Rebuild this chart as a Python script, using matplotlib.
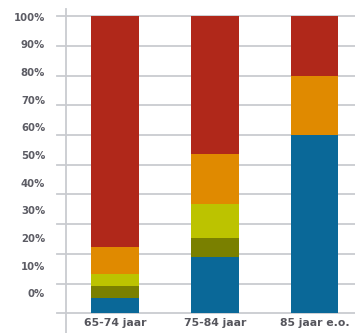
import numpy as np
import matplotlib
matplotlib.use('Agg')
import matplotlib.pyplot as plt

# age groups and stacked shares (percent), bottom to top
categories = ['65-74 jaar', '75-84 jaar', '85 jaar e.o.']
blue = [5.3, 18.9, 60.0]
olive = [4.0, 6.4, 0.0]
lime = [3.8, 11.6, 0.0]
orange = [9.4, 16.8, 20.0]
red = [77.5, 46.3, 20.0]

ytick_labels = ['0%', '10%', '20%', '30%', '40%', '50%',
                '60%', '70%', '80%', '90%', '100%']

series = [blue, olive, lime, orange, red]
colors = ['#0a6898', '#7a8000', '#bcc300', '#e08a00', '#b0281a']

fig = plt.figure(figsize=(3.55, 3.33), dpi=100)
ax = fig.add_axes([66 / 355, 0, 289 / 355, 1 - 9 / 333])

x = np.arange(len(categories))
bottom = np.zeros(len(categories))
for vals, col in zip(series, colors):
    vals = np.array(vals)
    ax.bar(x, vals, width=0.48, bottom=bottom, color=col, zorder=3)
    bottom += vals

# horizontal grid, sticking out a little left of the axis line
for g in range(0, 101, 10):
    ax.axhline(g, xmin=-0.031, xmax=1, color='#c9cbd0', lw=1.3,
               clip_on=False, zorder=1)

ax.set_xlim(-0.491, 2.406)
ax.set_ylim(-6.6, 102.4)

# y labels run on a slightly tighter spacing than the grid
label_pos = 6.74 + np.arange(len(ytick_labels)) * 9.31
ax.set_yticks(label_pos)
ax.set_yticklabels(ytick_labels, fontsize=7.3, fontweight='bold', color='#5c5c64')
ax.tick_params(axis='y', length=0, pad=15)

ax.set_xticks([])
for xi, lab in zip(x, categories):
    ax.text(xi, -3.1, lab, ha='center', va='center', fontsize=7.8,
            fontweight='bold', color='#55555c')

for s in ['top', 'right', 'bottom']:
    ax.spines[s].set_visible(False)
ax.spines['left'].set_color('#c9cbd0')
ax.spines['left'].set_linewidth(1.3)

fig.savefig('out.png', dpi=100)
